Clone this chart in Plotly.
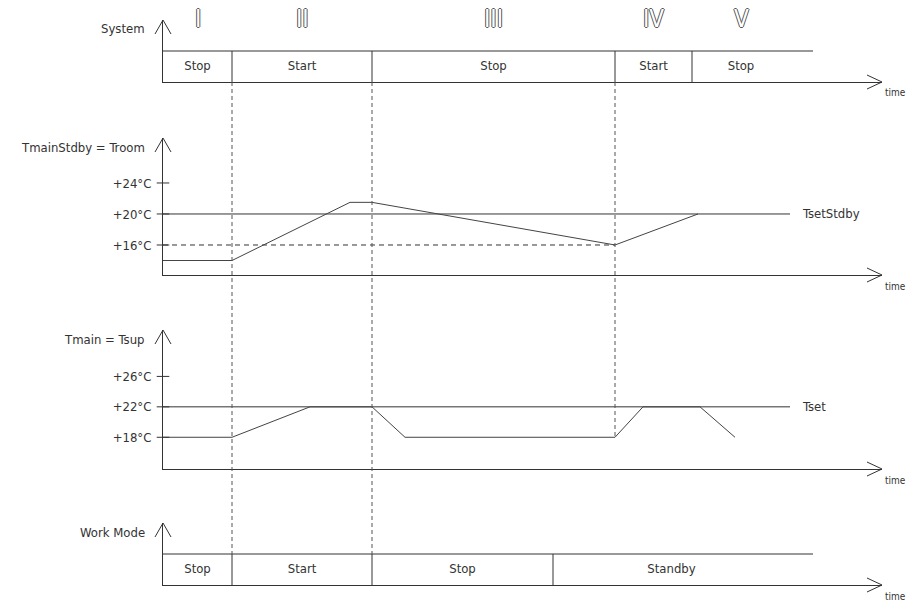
import plotly.graph_objects as go

# ---------------- data ----------------
phase_start = [0, 6.9, 20.9, 45.2, 52.9]          # time at which each system phase starts
phase_numbers = ["I", "II", "III", "IV", "V"]
system_states = ["Stop", "Start", "Stop", "Start", "Stop"]
mode_start = [0, 6.9, 20.9, 39.0]
mode_states = ["Stop", "Start", "Stop", "Standby"]
label_end = 62.7          # end of the last labelled phase
bar_end = 65.0            # end of the state bars
setpoint_end = 62.7       # end of the setpoint lines
time_end = 71.9           # end of the time axis

troom_t = [0, 6.9, 18.7, 20.9, 45.2, 53.5]
troom_v = [14, 14, 21.5, 21.5, 16, 20]
tsup_t = [0, 6.9, 14.7, 20.9, 24.2, 45.2, 48.0, 53.7, 57.2]
tsup_v = [18, 18, 22, 22, 18, 18, 22, 22, 18]
tset_stdby = 20
t_threshold = 16
tset = 22
room_ticks = [16, 20, 24]
sup_ticks = [18, 22, 26]
tick_text = lambda v: f"+{v}°C"

# ---------------- layout helpers ----------------
W, H = 907, 601
AX_X0, AX_X1 = 163, 882
FONT = "DejaVu Sans Condensed, Liberation Sans Narrow, Arial Narrow, sans-serif"
INK = "#333333"

def fx(p):
    return p / W

def fy(p):
    return 1 - p / H

panels = [
    dict(top=20, bottom=82, rng=[0, 2], title="System"),
    dict(top=138, bottom=275, rng=[12.13, 29.8], title="TmainStdby = Troom"),
    dict(top=330, bottom=469, rng=[13.83, 32.1], title="Tmain = Tsup"),
    dict(top=523, bottom=585, rng=[0, 2], title="Work Mode"),
]

def val_paper(i, v):
    p = panels[i]
    d0, d1 = fy(p["bottom"]), fy(p["top"])
    r0, r1 = p["rng"]
    return d0 + (v - r0) / (r1 - r0) * (d1 - d0)

fig = go.Figure()
line = dict(color=INK, width=1)

def ax(i):
    return ("x" if i == 0 else f"x{i+1}"), ("y" if i == 0 else f"y{i+1}")

def state_bar(i, starts, states):
    xa, ya = ax(i)
    xs, ys = [0, bar_end], [1, 1]
    for s in starts[1:]:
        xs += [None, s, s]
        ys += [None, 0, 1]
    fig.add_trace(go.Scatter(x=xs, y=ys, mode="lines", line=line, xaxis=xa, yaxis=ya,
                             hoverinfo="skip", showlegend=False))
    ends = starts[1:] + [label_end]
    mids = [(a + b) / 2 for a, b in zip(starts, ends)]
    fig.add_trace(go.Scatter(x=mids, y=[0.5] * len(mids), mode="text", text=states,
                             textfont=dict(family=FONT, size=13, color=INK),
                             xaxis=xa, yaxis=ya, hoverinfo="skip", showlegend=False))
    return mids

mids = state_bar(0, phase_start, system_states)
state_bar(3, mode_start, mode_states)

# Panel 2: room temperature
fig.add_trace(go.Scatter(x=[0, setpoint_end], y=[tset_stdby] * 2, mode="lines", line=line,
                         xaxis="x2", yaxis="y2", showlegend=False, hoverinfo="skip"))
fig.add_trace(go.Scatter(x=[0, phase_start[3]], y=[t_threshold] * 2, mode="lines",
                         line=dict(color=INK, width=1, dash="5px,4px"),
                         xaxis="x2", yaxis="y2", showlegend=False, hoverinfo="skip"))
fig.add_trace(go.Scatter(x=troom_t, y=troom_v, mode="lines", line=dict(color="#444", width=1),
                         xaxis="x2", yaxis="y2", showlegend=False))
fig.add_trace(go.Scatter(x=[0] * 3, y=room_ticks, mode="markers",
                         marker=dict(symbol="line-ew", size=9, line=dict(color=INK, width=1)),
                         cliponaxis=False, xaxis="x2", yaxis="y2", showlegend=False, hoverinfo="skip"))

# Panel 3: supply temperature
fig.add_trace(go.Scatter(x=[0, setpoint_end], y=[tset] * 2, mode="lines", line=line,
                         xaxis="x3", yaxis="y3", showlegend=False, hoverinfo="skip"))
fig.add_trace(go.Scatter(x=tsup_t, y=tsup_v, mode="lines", line=dict(color="#444", width=1),
                         xaxis="x3", yaxis="y3", showlegend=False))
fig.add_trace(go.Scatter(x=[0] * 3, y=sup_ticks, mode="markers",
                         marker=dict(symbol="line-ew", size=9, line=dict(color=INK, width=1)),
                         cliponaxis=False, xaxis="x3", yaxis="y3", showlegend=False, hoverinfo="skip"))

layout = dict(width=W, height=H, margin=dict(l=0, r=0, t=0, b=0),
              paper_bgcolor="white", plot_bgcolor="white", showlegend=False)
for i, p in enumerate(panels):
    sfx = "" if i == 0 else str(i + 1)
    xa, ya = ax(i)
    layout["xaxis" + sfx] = dict(domain=[fx(AX_X0), fx(AX_X1)], range=[0, time_end],
                                 anchor=ya, showgrid=False, zeroline=False, showticklabels=False,
                                 ticks="", showline=True, linecolor=INK, linewidth=1,
                                 fixedrange=True)
    yax = dict(domain=[fy(p["bottom"]), fy(p["top"])], range=p["rng"], anchor=xa,
               showgrid=False, zeroline=False, showline=True, linecolor=INK, linewidth=1,
               fixedrange=True, showticklabels=False, ticks="")
    if i in (1, 2):
        tv = room_ticks if i == 1 else sup_ticks
        yax.update(showticklabels=True, tickvals=tv, ticktext=[tick_text(v) for v in tv],
                   ticks="outside", ticklen=8, tickcolor="rgba(0,0,0,0)",
                   tickfont=dict(family=FONT, size=13, color=INK))
    layout["yaxis" + sfx] = yax
fig.update_layout(**layout)

shapes, annots = [], []
for p in panels:
    # arrow on vertical axis
    t = p["top"]
    shapes.append(dict(type="path", xref="paper", yref="paper",
                       path=f"M {fx(AX_X0-8)} {fy(t+14)} L {fx(AX_X0)} {fy(t)} L {fx(AX_X0+8)} {fy(t+14)}",
                       line=dict(color=INK, width=1)))
    b = p["bottom"]
    shapes.append(dict(type="path", xref="paper", yref="paper",
                       path=f"M {fx(AX_X1-15)} {fy(b-7)} L {fx(AX_X1)} {fy(b)} L {fx(AX_X1-15)} {fy(b+7)}",
                       line=dict(color=INK, width=1)))
    annots.append(dict(x=fx(147), y=fy(t + 9), xref="paper", yref="paper", text=p["title"],
                       showarrow=False, xanchor="right", yanchor="middle",
                       font=dict(family=FONT, size=13, color=INK)))
    annots.append(dict(x=fx(AX_X1 + 1), y=fy(b + 11), xref="paper", yref="paper", text="time",
                       showarrow=False, xanchor="left", yanchor="middle",
                       font=dict(family=FONT, size=10, color=INK)))

# dashed phase boundaries
vdash = dict(color="#555", width=1, dash="4px,3px")
for s in phase_start[1:3]:
    shapes.append(dict(type="line", xref="x", yref="paper", x0=s, x1=s,
                       y0=val_paper(0, 0), y1=val_paper(3, 1), line=vdash))
shapes.append(dict(type="line", xref="x", yref="paper", x0=phase_start[3], x1=phase_start[3],
                   y0=val_paper(0, 0), y1=val_paper(2, tsup_v[5]), line=vdash))

# phase numerals (hollow look)
outline = "1px 0 0 #555, -1px 0 0 #555, 0 1px 0 #555, 0 -1px 0 #555"
for m, n in zip(mids, phase_numbers):
    annots.append(dict(x=m, y=fy(19), xref="x", yref="paper", text=n,
                       showarrow=False, xanchor="center", yanchor="middle",
                       font=dict(family=FONT, size=24, color="white", shadow=outline)))

# setpoint labels
annots.append(dict(x=setpoint_end, y=tset_stdby, xref="x2", yref="y2", text="TsetStdby",
                   showarrow=False, xanchor="left", xshift=10,
                   font=dict(family=FONT, size=13, color=INK)))
annots.append(dict(x=setpoint_end, y=tset, xref="x3", yref="y3", text="Tset",
                   showarrow=False, xanchor="left", xshift=10,
                   font=dict(family=FONT, size=13, color=INK)))

fig.update_layout(shapes=shapes, annotations=annots)
fig.write_html("out.html", config={"displayModeBar": False},
               post_script="document.body.style.margin='0';document.body.style.overflow='hidden';")
